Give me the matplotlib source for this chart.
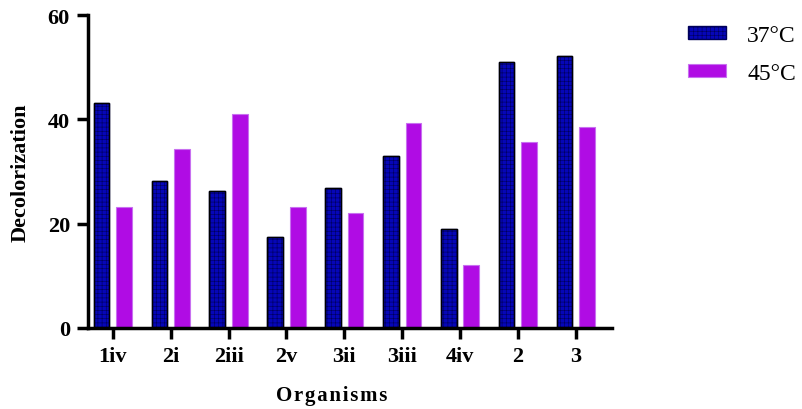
import matplotlib.pyplot as plt
import numpy as np

# data
organisms = ["1iv", "2i", "2iii", "2v", "3ii", "3iii", "4iv", "2", "3"]
temp_37 = [43.1, 28.2, 26.3, 17.4, 26.8, 33.0, 19.0, 51.0, 52.1]
temp_45 = [23.2, 34.3, 41.0, 23.2, 22.0, 39.3, 12.1, 35.7, 38.5]

plt.rcParams['font.family'] = ['Liberation Serif', 'DejaVu Serif']
plt.rcParams['hatch.linewidth'] = 0.4

fig = plt.figure(figsize=(8.03, 4.10), dpi=100)
ax = fig.add_axes([0.1096, 0.1976, 0.652, 0.763])

x = np.arange(len(organisms))
w = 0.27
off = 0.195

ax.bar(x - off, temp_37, w, color="#0606b8", edgecolor="#00005a",
       hatch="++++", linewidth=1.0, label="37°C", zorder=2)
ax.bar(x - off, temp_37, w, facecolor="none", edgecolor="black",
       linewidth=1.0, zorder=3)
ax.bar(x + off, temp_45, w, color="#b00ce4", edgecolor="#c870f0",
       linewidth=0.8, label="45°C", zorder=2)

ax.set_xlim(-0.43, 8.62)
ax.set_ylim(0, 60)
ax.set_yticks([0, 20, 40, 60])
ax.set_xticks(x)
ax.set_xticklabels(organisms)

for s in ["top", "right"]:
    ax.spines[s].set_visible(False)
for s in ["left", "bottom"]:
    ax.spines[s].set_linewidth(2.5)

ax.tick_params(axis="both", width=2.5, length=8, direction="out",
               labelsize=16, pad=5)
for lbl in ax.get_xticklabels() + ax.get_yticklabels():
    lbl.set_fontweight("bold")

ax.set_ylabel("Decolorization", fontsize=16, fontweight="bold", labelpad=12)
ax.set_xlabel("\u200a".join("Organisms"), fontsize=15, fontweight="bold")
ax.xaxis.set_label_coords(0.466, -0.182)

ax.legend(loc="upper left", bbox_to_anchor=(0.857, 0.937),
          bbox_transform=fig.transFigure, frameon=False,
          fontsize=17, handlelength=1.6, handleheight=0.5,
          labelspacing=0.72, handletextpad=0.9,
          borderpad=0, borderaxespad=0)

fig.savefig("out.png", dpi=100)
